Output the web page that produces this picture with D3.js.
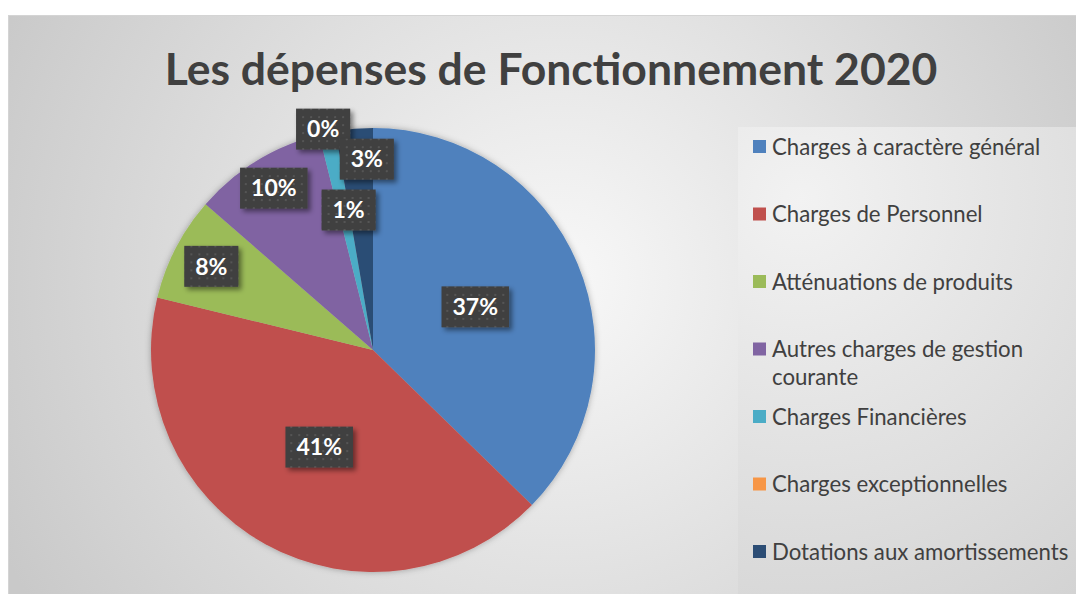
<!DOCTYPE html>
<html>
<head>
<meta charset="utf-8">
<script src="https://cdn.jsdelivr.net/npm/d3@7"></script>
<style>
  body { margin: 0; background: #fff; }
  svg { display: block; font-family: Lato, "Open Sans", sans-serif; }
</style>
</head>
<body>
<div id="chart"></div>
<script>
const categories = [
  "Charges à caractère général",
  "Charges de Personnel",
  "Atténuations de produits",
  "Autres charges de gestion courante",
  "Charges Financières",
  "Charges exceptionnelles",
  "Dotations aux amortissements"
];
const shares = [37.3, 41.5, 7.6, 9.7, 1.2, 0, 2.7];
const labels = ["37%", "41%", "8%", "10%", "1%", "0%", "3%"];
const colors = ["#4f81bd", "#c0504d", "#9bbb59", "#8064a2", "#4bacc6", "#f79646", "#2c4d75"];

// label placement (radius factor, angle shift in degrees), like Excel's best fit
const labelRadius = [0.5, 0.5, 0.82, 0.855, 0.64, 1.02, 0.86];
const labelShift = [0, 0, 0, 0, 2, -3, 3];

const W = 1076, H = 594;
const svg = d3.select("#chart").append("svg").attr("width", W).attr("height", H);
const defs = svg.append("defs");

const bg = defs.append("radialGradient").attr("id", "bg")
  .attr("gradientUnits", "userSpaceOnUse")
  .attr("cx", 560).attr("cy", 280).attr("r", 620);
bg.append("stop").attr("offset", 0).attr("stop-color", "#f8f8f8");
bg.append("stop").attr("offset", 1).attr("stop-color", "#c9c9c9");

const lg = defs.append("radialGradient").attr("id", "lg")
  .attr("gradientUnits", "userSpaceOnUse")
  .attr("cx", 800).attr("cy", 200).attr("r", 480);
lg.append("stop").attr("offset", 0).attr("stop-color", "#f2f2f2");
lg.append("stop").attr("offset", 1).attr("stop-color", "#d3d3d3");

const pat = defs.append("pattern").attr("id", "dots")
  .attr("patternUnits", "userSpaceOnUse").attr("width", 8).attr("height", 8);
pat.append("rect").attr("width", 8).attr("height", 8).attr("fill", "#404040");
pat.append("rect").attr("x", 3).attr("y", 3).attr("width", 2).attr("height", 2).attr("fill", "#555555");

const sh = defs.append("filter").attr("id", "shadow")
  .attr("x", "-20%").attr("y", "-20%").attr("width", "150%").attr("height", "150%");
sh.append("feDropShadow").attr("dx", 3).attr("dy", 3).attr("stdDeviation", 2.5)
  .attr("flood-color", "#000").attr("flood-opacity", 0.45);

const pieSh = defs.append("filter").attr("id", "pieShadow")
  .attr("x", "-10%").attr("y", "-10%").attr("width", "120%").attr("height", "120%");
pieSh.append("feDropShadow").attr("dx", 0).attr("dy", 0).attr("stdDeviation", 3)
  .attr("flood-color", "#000").attr("flood-opacity", 0.3);

// chart area
svg.append("rect")
  .attr("x", 8.5).attr("y", 15.5).attr("width", W).attr("height", H)
  .attr("fill", "url(#bg)").attr("stroke", "#d4d4d4");

svg.append("rect")
  .attr("x", 738).attr("y", 127).attr("width", W - 738).attr("height", H - 127)
  .attr("fill", "url(#lg)");

// title
svg.append("text")
  .attr("x", 551).attr("y", 85)
  .attr("text-anchor", "middle")
  .attr("font-size", 44.5).attr("font-weight", "bold")
  .attr("fill", "#404040")
  .text("Les dépenses de Fonctionnement 2020");

// pie
const cx = 373, cy = 350, r = 222;
const g = svg.append("g").attr("transform", `translate(${cx},${cy})`);
const pie = d3.pie().sort(null).value(d => d);
const arcs = pie(shares);
const arc = d3.arc().innerRadius(0).outerRadius(r);

g.append("g").attr("filter", "url(#pieShadow)")
  .selectAll("path")
  .data(arcs)
  .join("path")
  .attr("d", arc)
  .attr("fill", (d, i) => colors[i]);

// data labels
const lab = g.selectAll("g.lab")
  .data(arcs)
  .join("g")
  .attr("class", "lab")
  .attr("transform", (d, i) => {
    const a = (d.startAngle + d.endAngle) / 2 + labelShift[i] * Math.PI / 180;
    const rr = r * labelRadius[i];
    return `translate(${rr * Math.sin(a)},${-rr * Math.cos(a)})`;
  });

lab.each(function (d, i) {
  const el = d3.select(this);
  const t = el.append("text")
    .attr("text-anchor", "middle")
    .attr("dy", "0.36em")
    .attr("font-size", 23).attr("font-weight", "bold")
    .attr("fill", "#fff")
    .text(labels[i]);
  const w = t.node().getComputedTextLength() + 22;
  el.insert("rect", "text")
    .attr("x", -w / 2).attr("y", -20.5)
    .attr("width", w).attr("height", 41)
    .attr("fill", "url(#dots)")
    .attr("filter", "url(#shadow)");
});

// legend
const ly = d3.scalePoint().domain(categories).range([147, 552]);
const leg = svg.append("g").selectAll("g")
  .data(categories)
  .join("g")
  .attr("transform", d => `translate(753,${ly(d)})`);

leg.append("rect")
  .attr("x", 0).attr("y", -7).attr("width", 13).attr("height", 13)
  .attr("fill", (d, i) => colors[i]);

leg.append("text")
  .attr("x", 19).attr("dy", "0.35em")
  .attr("font-size", 22.2).attr("fill", "#404040")
  .each(function (d) {
    const el = d3.select(this);
    if (d === "Autres charges de gestion courante") {
      el.append("tspan").attr("x", 19).text("Autres charges de gestion");
      el.append("tspan").attr("x", 19).attr("dy", 28).text("courante");
    } else {
      el.text(d);
    }
  });
</script>
</body>
</html>
